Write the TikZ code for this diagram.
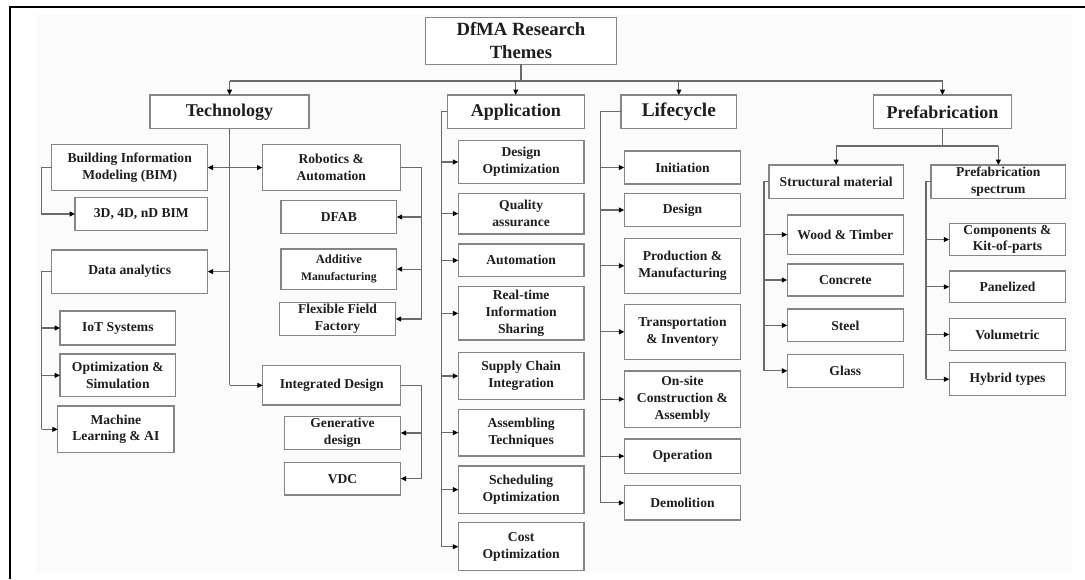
\documentclass[tikz,border=0pt]{standalone}
\usepackage{fontspec}
\setmainfont{Liberation Serif}
\usetikzlibrary{arrows.meta}

\definecolor{boxline}{HTML}{858585}
\definecolor{wirecol}{HTML}{6A6A6A}
\definecolor{ink}{HTML}{1E1E1E}
\definecolor{panel}{HTML}{FBFBFB}

\tikzset{
  box/.style={draw=boxline, line width=0.85pt, fill=white, inner sep=0pt, outer sep=0pt,
    align=center, text=ink, font=\bfseries\fontsize{10.2}{12.5}\selectfont},
  head/.style={box, font=\bfseries\fontsize{13.5}{16}\selectfont},
  % a box given by its left, top, right and bottom edges
  span/.style n args={4}{at={({(#1+#3)/2},{(#2+#4)/2})},
    minimum width={(#3-#1)*0.75pt}, minimum height={(#4-#2)*0.75pt}},
  link/.style={draw=wirecol, line width=0.9pt},
  arr/.style={link, -{Triangle[length=4pt,width=3.6pt,color=black]}},
}

\begin{document}
\begin{tikzpicture}[x=0.75pt,y=-0.75pt]
\useasboundingbox (0,0) rectangle (1085,579);
% page panel and frame
\fill[panel] (36,14) rectangle (1072,573);
\draw[line width=2pt] (10,579) -- (10,7) -- (1085,7);

% root and the four themes
\node[box, font=\bfseries\fontsize{14}{17.3}\selectfont, span={425.3}{17.2}{616.5}{64.4}] (title) {DfMA Research\\Themes};
\node[head, span={150}{95}{309}{128.5}] (tech) {Technology};
\node[head, span={447.3}{95}{584.3}{128.5}] (app) {Application};
\node[head, font=\bfseries\fontsize{14.5}{17}\selectfont, span={621}{95}{736.7}{128.5}] (life) {Lifecycle};
\node[head, span={873.3}{95}{1011.7}{128.5}] (pref) {Prefabrication};

% technology
\node[box, span={51.7}{144.6}{207.7}{190.5}] (bim) {Building Information\\Modeling (BIM)};
\node[box, span={262.4}{144.6}{400.2}{190.5}] (rob) {Robotics \&\\Automation};
\node[box, span={75}{197.3}{207.7}{230.7}] (bimnd) {3D, 4D, nD BIM};
\node[box, span={51.7}{250}{207.7}{293.3}] (data) {Data analytics};
\node[box, span={60}{311}{175.7}{345}] (iot) {IoT Systems};
\node[box, span={60}{354}{175.7}{396.7}] (optsim) {Optimization \&\\Simulation};
\node[box, span={57.7}{406}{174}{452.7}] (ml) {Machine\\Learning \& AI};
\node[box, span={281}{200.7}{396.7}{233.3}] (dfab) {DFAB};
\node[box, span={281}{249}{396.7}{289.3}] (addm) {{\fontsize{9.4}{11}\selectfont Additive}\\{\fontsize{8.7}{11}\selectfont Manufacturing}};
\node[box, span={279.3}{302.3}{395.7}{335.7}] (flex) {Flexible Field\\Factory};
\node[box, span={262.7}{365.7}{400.7}{405}] (intd) {Integrated Design};
\node[box, span={284.3}{416.7}{400.7}{449.3}] (gen) {Generative\\design};
\node[box, span={284.3}{462.3}{400.7}{495}] (vdc) {VDC};

% application
\node[box, span={458.3}{140.7}{584}{183.3}] (a1) {Design\\Optimization};
\node[box, span={458.3}{193.3}{584}{234}] (a2) {Quality\\assurance};
\node[box, span={458.3}{244}{584}{276.7}] (a3) {Automation};
\node[box, span={458.3}{286.7}{584}{340}] (a4) {Real-time\\Information\\Sharing};
\node[box, span={458.3}{352.7}{584}{399.3}] (a5) {Supply Chain\\Integration};
\node[box, span={458.3}{409.3}{584}{456}] (a6) {Assembling\\Techniques};
\node[box, span={458.3}{466}{584}{513.3}] (a7) {Scheduling\\Optimization};
\node[box, span={458.3}{522.7}{584}{570.7}] (a8) {Cost\\Optimization};

% lifecycle
\node[box, span={624.3}{151}{740.7}{184}] (l1) {Initiation};
\node[box, span={624.3}{193.3}{740.7}{226.7}] (l2) {Design};
\node[box, span={624.3}{238.3}{740.7}{293.3}] (l3) {Production \&\\Manufacturing};
\node[box, span={624.3}{304.3}{740.7}{359.3}] (l4) {Transportation\\\& Inventory};
\node[box, span={624.3}{371}{740.7}{427.3}] (l5) {On-site\\Construction \&\\Assembly};
\node[box, span={624.3}{439}{740.7}{473.3}] (l6) {Operation};
\node[box, span={624.3}{485.7}{740.7}{520}] (l7) {Demolition};

% prefabrication
\node[box, span={769}{165}{903.3}{198.3}] (smat) {Structural material};
\node[box, span={931}{165}{1065.7}{198.3}] (spec) {Prefabrication\\spectrum};
\node[box, span={787.3}{215}{903.3}{254.3}] (s1) {Wood \& Timber};
\node[box, span={787.3}{264}{903.3}{296}] (s2) {Concrete};
\node[box, span={787.3}{309}{903.3}{341.7}] (s3) {Steel};
\node[box, span={787.3}{354.3}{903.3}{387.3}] (s4) {Glass};
\node[box, span={949.3}{223.3}{1065.7}{255.7}] (p1) {Components \&\\Kit-of-parts};
\node[box, span={949.3}{271}{1065.7}{302.7}] (p2) {Panelized};
\node[box, span={949.3}{318.3}{1065.7}{350.7}] (p3) {Volumetric};
\node[box, span={949.3}{362.7}{1065.7}{395.7}] (p4) {Hybrid types};

% bus lines
\coordinate (topbus) at (0,81);
\coordinate (prefbus) at (0,146);
\coordinate (bimbus) at (41.3,0);
\coordinate (databus) at (41.7,0);
\coordinate (robbus) at (421.7,0);
\coordinate (appbus) at (441.7,0);
\coordinate (lifebus) at (600.7,0);
\coordinate (smatbus) at (764,0);
\coordinate (specbus) at (926,0);

% root to themes
\draw[link] (title.south) -- (title.south |- topbus);
\draw[link] (tech.north |- topbus) -- (pref.north |- topbus);
\foreach \n in {tech,app,life,pref}
  \draw[arr] (\n.north |- topbus) -- (\n.north);

% technology trunk
\draw[link] (tech.south) -- (tech.south |- intd.west);
\draw[arr] (tech.south |- intd.west) -- (intd.west);
\draw[arr] (tech.south |- bim.east) -- (bim.east);
\draw[arr] (tech.south |- rob.west) -- (rob.west);
\draw[arr] (tech.south |- data.east) -- (data.east);

% BIM
\draw[link] (bim.west) -- (bim.west -| bimbus) -- (bimbus |- bimnd.west);
\draw[arr] (bimbus |- bimnd.west) -- (bimnd.west);

% data analytics
\draw[link] (data.west) -- (data.west -| databus) -- (databus |- ml.west);
\foreach \n in {iot,optsim,ml}
  \draw[arr] (databus |- \n.west) -- (\n.west);

% robotics and integrated design
\draw[link] (rob.east) -- (rob.east -| robbus) -- (robbus |- flex.east);
\foreach \n in {dfab,addm,flex}
  \draw[arr] (robbus |- \n.east) -- (\n.east);
\draw[link] (intd.east) -- (intd.east -| robbus) -- (robbus |- vdc.east);
\foreach \n in {gen,vdc}
  \draw[arr] (robbus |- \n.east) -- (\n.east);

% application
\draw[link] (app.west) -- (app.west -| appbus) -- (appbus |- a8.west);
\foreach \n in {a1,a2,a3,a4,a5,a6,a7,a8}
  \draw[arr] (appbus |- \n.west) -- (\n.west);

% lifecycle
\draw[link] (life.west) -- (life.west -| lifebus) -- (lifebus |- l7.west);
\foreach \n in {l1,l2,l3,l4,l5,l6,l7}
  \draw[arr] (lifebus |- \n.west) -- (\n.west);

% prefabrication
\draw[link] (pref.south) -- (pref.south |- prefbus);
\draw[link] (smat.north |- prefbus) -- (spec.north |- prefbus);
\draw[arr] (smat.north |- prefbus) -- (smat.north);
\draw[arr] (spec.north |- prefbus) -- (spec.north);
\draw[link] (smat.west) -- (smat.west -| smatbus) -- (smatbus |- s4.west);
\foreach \n in {s1,s2,s3,s4}
  \draw[arr] (smatbus |- \n.west) -- (\n.west);
\draw[link] (spec.west) -- (spec.west -| specbus) -- (specbus |- p4.west);
\foreach \n in {p1,p2,p3,p4}
  \draw[arr] (specbus |- \n.west) -- (\n.west);
\end{tikzpicture}
\end{document}
